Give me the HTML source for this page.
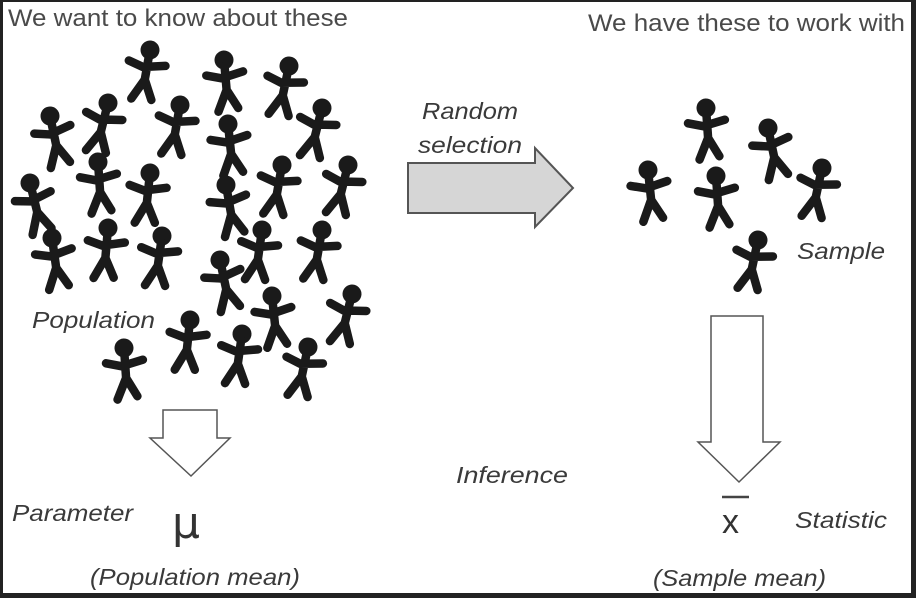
<!DOCTYPE html>
<html><head><meta charset="utf-8"><style>
html,body{margin:0;padding:0;background:#222;}
#c{position:relative;width:916px;height:598px;overflow:hidden;background:#222;}
#w{position:absolute;left:3px;top:2px;width:908px;height:591px;background:#fff;}
text{font-family:"Liberation Sans",sans-serif;}
.i{font-style:italic;fill:#3a3a3a;font-size:23px;}
.h{fill:#4a4a4a;font-size:24px;}
</style></head><body>
<div id="c"><div id="w"></div>
<svg width="916" height="598" style="position:absolute;left:0;top:0">
<defs>
<g id="p" stroke="#1a1a1a" stroke-width="8.5" stroke-linecap="round" stroke-linejoin="round" fill="none">
<circle cx="0" cy="0" r="9.5" fill="#1a1a1a" stroke="none"/>
<path d="M0 6 L0 32 M-19 14 L-4 18 L18 13 M0 30 L-10 51 M0 30 L10 49"/>
</g>
</defs>
<g>
<use href="#p" transform="translate(150,50) rotate(10)"/>
<use href="#p" transform="translate(224,60) rotate(-5)"/>
<use href="#p" transform="translate(289,66) rotate(12)"/>
<use href="#p" transform="translate(50,116) rotate(-12)"/>
<use href="#p" transform="translate(108,103) rotate(14)"/>
<use href="#p" transform="translate(180,105) rotate(10)"/>
<use href="#p" transform="translate(228,124) rotate(-6)"/>
<use href="#p" transform="translate(322,108) rotate(14)"/>
<use href="#p" transform="translate(98,162) rotate(-4)"/>
<use href="#p" transform="translate(150,173) rotate(6)"/>
<use href="#p" transform="translate(226,185) rotate(-10)"/>
<use href="#p" transform="translate(282,165) rotate(10)"/>
<use href="#p" transform="translate(348,165) rotate(14)"/>
<use href="#p" transform="translate(30,183) rotate(-14)"/>
<use href="#p" transform="translate(52,238) rotate(-8)"/>
<use href="#p" transform="translate(108,228) rotate(5)"/>
<use href="#p" transform="translate(162,236) rotate(8)"/>
<use href="#p" transform="translate(220,260) rotate(-12)"/>
<use href="#p" transform="translate(262,230) rotate(8)"/>
<use href="#p" transform="translate(322,230) rotate(10)"/>
<use href="#p" transform="translate(272,296) rotate(-6)"/>
<use href="#p" transform="translate(352,294) rotate(14)"/>
<use href="#p" transform="translate(190,320) rotate(6)"/>
<use href="#p" transform="translate(242,334) rotate(8)"/>
<use href="#p" transform="translate(308,347) rotate(12)"/>
<use href="#p" transform="translate(124,348) rotate(-4)"/>
<use href="#p" transform="translate(648,170) rotate(-6)"/>
<use href="#p" transform="translate(706,108) rotate(-4)"/>
<use href="#p" transform="translate(768,128) rotate(-12)"/>
<use href="#p" transform="translate(822,168) rotate(12)"/>
<use href="#p" transform="translate(716,176) rotate(-4)"/>
<use href="#p" transform="translate(758,240) rotate(12)"/>
</g>
<polygon points="408,163 535,163 535,148 573,188 535,227 535,213 408,213" fill="#d6d6d6" stroke="#555" stroke-width="2"/>
<polygon points="163,410 217,410 217,438 230,438 191,476 150,438 163,438" fill="#fff" stroke="#555" stroke-width="1.5"/>
<polygon points="711,316 763,316 763,442 780,442 739,482 698,442 711,442" fill="#fff" stroke="#555" stroke-width="1.5"/>
<line x1="722" y1="497" x2="749" y2="497" stroke="#444" stroke-width="2.5"/>
<text class="h" x="8" y="26" textLength="340" lengthAdjust="spacingAndGlyphs">We want to know about these</text>
<text class="h" x="588" y="31" textLength="317" lengthAdjust="spacingAndGlyphs">We have these to work with</text>
<text class="i" x="422" y="119" textLength="96" lengthAdjust="spacingAndGlyphs">Random</text>
<text class="i" x="418" y="153" textLength="104" lengthAdjust="spacingAndGlyphs">selection</text>
<text class="i" x="797" y="259" textLength="88" lengthAdjust="spacingAndGlyphs">Sample</text>
<text class="i" x="32" y="328" textLength="123" lengthAdjust="spacingAndGlyphs">Population</text>
<text class="i" x="456" y="483" textLength="112" lengthAdjust="spacingAndGlyphs">Inference</text>
<text class="i" x="12" y="521" textLength="121" lengthAdjust="spacingAndGlyphs">Parameter</text>
<text class="i" x="795" y="528" textLength="92" lengthAdjust="spacingAndGlyphs">Statistic</text>
<text class="i" x="90" y="585" textLength="210" lengthAdjust="spacingAndGlyphs">(Population mean)</text>
<text class="i" x="653" y="586" textLength="173" lengthAdjust="spacingAndGlyphs">(Sample mean)</text>
<text x="172" y="538" style="font-family:'DejaVu Sans',sans-serif;font-size:44px;fill:#333">μ</text>
<text x="722" y="533" style="font-size:34px;fill:#333">x</text>
</svg>
</div>
</body></html>
